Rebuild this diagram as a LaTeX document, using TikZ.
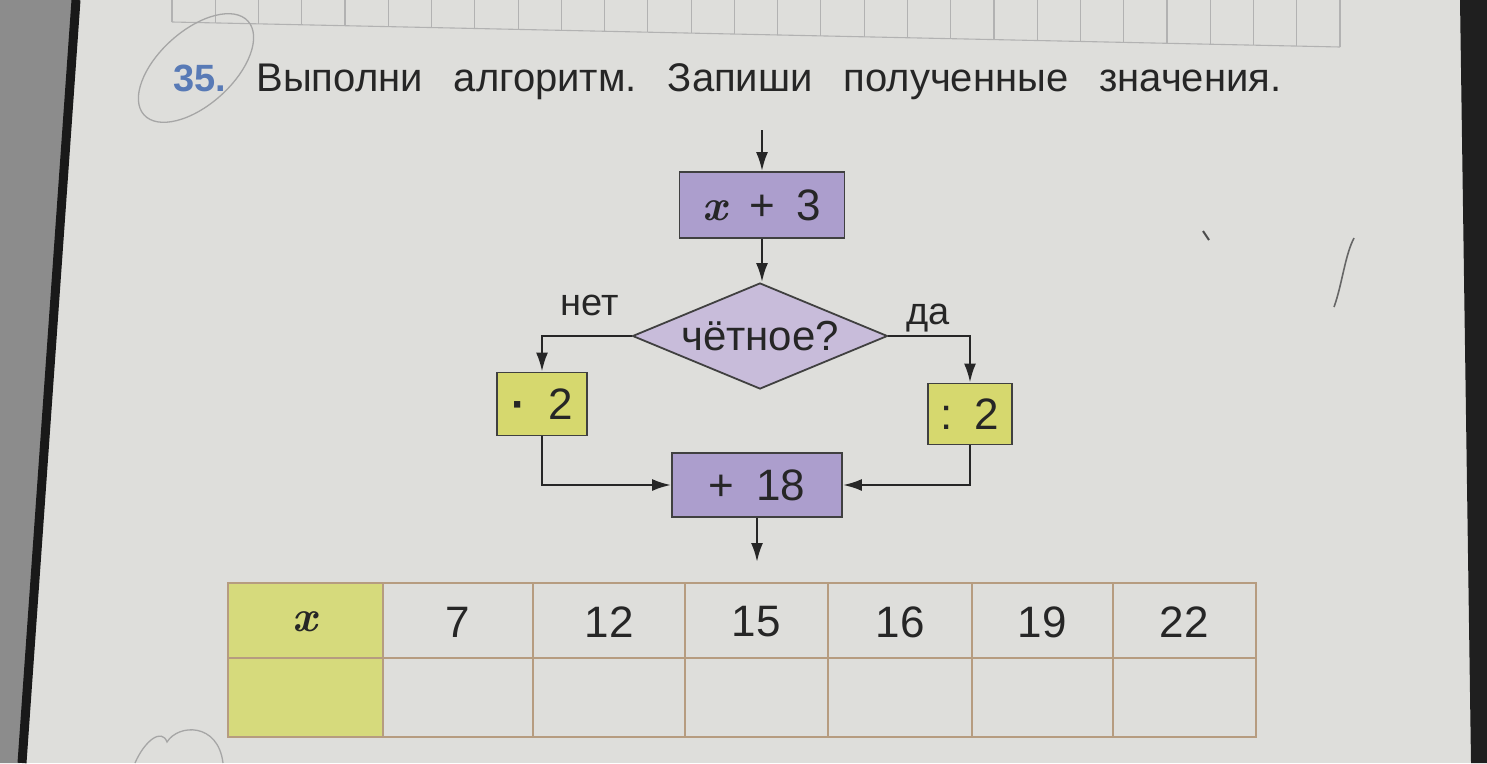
\documentclass[tikz,border=0pt]{standalone}
\usepackage{fontspec}
\setmainfont{Liberation Sans}
\newfontfamily\varfont{Latin Modern Roman}
\usetikzlibrary{shapes.geometric,arrows.meta}
\definecolor{paper}{RGB}{222,222,219}
\definecolor{boxlilac}{RGB}{172,158,205}
\definecolor{lilac}{RGB}{200,188,218}
\definecolor{lime}{RGB}{214,216,110}
\definecolor{tablelime}{RGB}{214,218,124}
\definecolor{tableline}{RGB}{182,156,128}
\definecolor{numblue}{RGB}{88,122,182}
\newcommand{\var}{{\varfont\bfseries\itshape x}}
\begin{document}
\begin{tikzpicture}[x=1pt,y=1pt,yscale=-1,xscale=1,
    opbox/.style={draw=black!75,line width=1.8pt,inner sep=0pt,text=black!85,font=\fontsize{44}{48}\selectfont},
    cond/.style={diamond,draw=black!75,line width=1.8pt,fill=lilac,inner sep=0pt},
    flow/.style={line width=2.4pt,draw=black!85,-{Latex[length=19pt,width=12pt]}},
    label/.style={text=black!85,font=\fontsize{38}{42}\selectfont},
    gridline/.style={draw=black!30,line width=1.1pt},
    pencil/.style={draw=black!35,line width=1.3pt},
    cell/.style={text=black!85,font=\fontsize{44}{48}\selectfont}]
    \path[use as bounding box,fill=paper] (0,0) rectangle (1487,763);
    \fill[black!45] (0,0) -- (74,0) -- (20,763) -- (0,763) -- cycle;
    \draw[black!90,line width=9pt] (76,0) -- (22,763);
    \fill[black!88] (1460,0) -- (1487,0) -- (1487,763) -- (1471,763) -- cycle;
    \foreach \i in {0,...,27} {
        \pgfmathsetmacro\gx{172+43.26*\i}
        \pgfmathsetmacro\gy{22+25*\i/27}
        \draw[gridline] (\gx,0) -- (\gx,\gy);
    }
    \draw[gridline] (172,22) -- (1340,47);
    \draw[pencil,shift={(196,68)},rotate=-42] (0,0) ellipse [x radius=70, y radius=37];
    \draw[pencil] (135,763) .. controls (145,740) and (162,728) .. (167,742) .. controls (178,724) and (218,722) .. (223,763);
    \draw[black!70,line width=2pt] (1203,231) -- (1209,240);
    \draw[black!60,line width=1.6pt] (1354,238) .. controls (1345,255) and (1342,285) .. (1334,307);
    \node[anchor=base west,text=numblue,font=\fontsize{38}{42}\selectfont\bfseries] (num) at (170,91) {35.};
    \node[anchor=base west,text=black!85,font=\fontsize{40}{44}\selectfont] (task) at (253,91) {Выполни\hspace{31pt}алгоритм.\hspace{31pt}Запиши\hspace{31pt}полученные\hspace{31pt}значения.};
    \coordinate (in) at (762,130);
    \node[opbox,fill=boxlilac,minimum width=165pt,minimum height=66pt] (inc) at (762,205) {\var\enspace+\enspace3};
    \node[cond,minimum width=255pt,minimum height=106pt] (even) at (760,336) {};
    \node[text=black!85,font=\fontsize{42}{46}\selectfont] (evenq) at (even) {чётное?};
    \node[opbox,fill=lime,minimum width=90pt,minimum height=63pt] (mul) at (542,404) {{\bfseries·}\enspace2};
    \node[opbox,fill=lime,minimum width=84pt,minimum height=61pt] (div) at (970,414) {:\enspace2};
    \node[opbox,fill=boxlilac,minimum width=170pt,minimum height=64pt] (add) at (757,485) {+\enspace18};
    \coordinate (out) at (757,562);
    \node[label] (no) at (590,305) {нет};
    \node[label] (yes) at (928,318) {да};
    \draw[flow] (in) -- (inc);
    \draw[flow] (inc.south) -- (inc.south |- even.north);
    \draw[flow] (even.west) -| (mul.north);
    \draw[flow] (even.east) -| (div.north);
    \draw[flow] (mul.south) |- (add.west);
    \draw[flow] (div.south) |- (add.east);
    \draw[flow] (add) -- (out);
    \fill[tablelime] (228,583) rectangle (383,737);
    \draw[tableline,line width=1.5pt] (228,583) rectangle (1256,737) (228,658) -- (1256,658);
    \foreach \cx in {383,533,685,828,972,1113} {
        \draw[tableline,line width=1.5pt] (\cx,583) -- (\cx,737);
    }
    \node[cell] (head) at (305,622) {\var};
    \foreach \cx/\v in {458/7,609/12,756/15,900/16,1042/19,1184/22} {
        \node[cell] (val\v) at (\cx,622) {\v};
    }
\end{tikzpicture}
\end{document}
